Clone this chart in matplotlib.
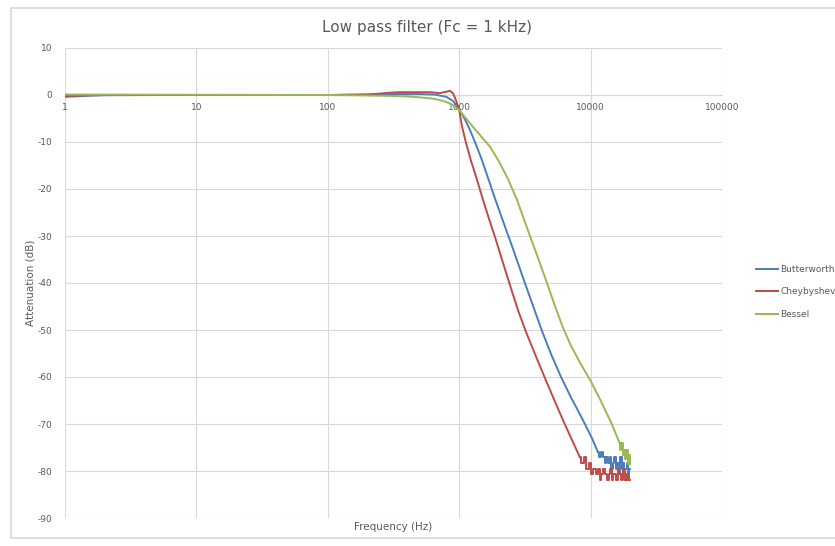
import matplotlib
matplotlib.use("Agg")
import matplotlib.pyplot as plt
from matplotlib.patches import Rectangle
from matplotlib.ticker import FixedLocator, NullLocator

plt.rcParams["axes.unicode_minus"] = False


# (Hz, dB)
butter_f = [1, 1.5, 2, 5, 10, 50, 100, 200, 350, 500, 650, 800, 900, 1000,
            1096, 1202, 1318, 1479, 1660, 1871, 2153, 2512, 3162, 4266, 5012,
            5957, 7079, 8318, 9120, 10233, 11376]
butter_db = [-0.4, -0.15, -0.05, 0, 0, 0, 0, 0.1, 0.2, 0.2, 0.1, -0.4, -1.3, -3.1,
             -5.0, -7.3, -10, -13.6, -17.7, -22, -26.8, -32, -40, -50.2, -55.2,
             -60, -64.3, -68, -70.2, -73, -76]
butter_tail_f = [11400, 11800, 12200, 12600, 13000, 13400, 13800, 14200, 14600,
                 15000, 15400, 15800, 16200, 16600, 17000, 17400, 17800, 18200,
                 18600, 19000, 19400, 19800]
butter_tail_db = [-76.0, -77.1, -76.0, -77.1, -78.3, -77.1, -78.3, -77.1, -79.5,
                  -78.3, -77.1, -79.5, -78.3, -80.7, -77.1, -79.5, -78.3, -80.7,
                  -79.5, -78.3, -80.7, -79.5]

cheby_f = [1, 2, 10, 100, 200, 250, 300, 355, 450, 600, 710, 800, 850, 900, 950,
           1000, 1047, 1122, 1230, 1365, 1517, 1679, 1862, 2344, 2818, 3236,
           3758, 4457, 5309, 6237, 7244, 8299]
cheby_db = [-0.2, 0, 0, 0, 0.1, 0.3, 0.5, 0.6, 0.6, 0.6, 0.4, 0.7, 0.9, 0.3, -1.3,
            -3.2, -6.5, -10, -14, -18, -22.3, -26.2, -30, -39, -46, -50.5,
            -55, -60, -65, -69.5, -73.5, -77.1]
cheby_tail_f = [8300, 8700, 9100, 9500, 9900, 10300, 10700, 11100, 11500, 11900,
                12300, 12700, 13100, 13500, 13900, 14300, 14700, 15100, 15500,
                15900, 16300, 16700, 17100, 17500, 17900, 18300, 18700, 19100,
                19500, 20000]
cheby_tail_db = [-77.1, -78.3, -77.1, -79.5, -78.3, -80.7, -79.5, -80.7, -79.5,
                 -82.0, -80.7, -79.5, -80.7, -82.0, -80.7, -79.5, -82.0, -80.7,
                 -80.7, -82.0, -79.5, -80.7, -82.0, -80.7, -79.5, -82.0, -80.7,
                 -82.0, -80.7, -82.0]

bessel_f = [1, 10, 100, 200, 300, 400, 500, 600, 700, 800, 900, 1000, 1150, 1274,
            1479, 1715, 1995, 2344, 2754, 3090, 3459, 3981, 4656, 5370, 6166,
            7079, 8318, 10000, 12023, 14488, 16596]
bessel_db = [0.1, 0.05, 0, -0.1, -0.2, -0.3, -0.5, -0.7, -1.0, -1.5, -2.2, -3.2,
             -5.3, -6.8, -8.9, -11, -14, -17.8, -22.3, -26.2, -30, -34.7, -40,
             -45, -49.5, -53.3, -57, -60.8, -65.2, -70, -74]
bessel_tail_f = [16596, 16900, 17300, 17700, 18100, 18500, 18900, 19300, 19700,
                 20000]
bessel_tail_db = [-74.0, -75.5, -74.0, -76.5, -75.5, -77.5, -75.5, -78.5, -76.5,
                  -78.5]

x_ticks = [1, 10, 100, 1000, 10000, 100000]
y_ticks = list(range(-90, 11, 10))

blue, red, green = "#4A7EBB", "#BE4B48", "#98B954"
grey_txt = "#595959"
grid_col = "#D9D9D9"

fig = plt.figure(figsize=(8.35, 5.46), dpi=100)
ax = fig.add_axes([65 / 835, 1 - 518 / 546, 657 / 835, 470 / 546])

ax.plot(butter_f, butter_db, color=blue, lw=1.4, zorder=3, label="Butterworth")
ax.plot(butter_tail_f, butter_tail_db, color=blue, lw=1.4, zorder=3,
        drawstyle="steps-mid")
ax.plot(cheby_f, cheby_db, color=red, lw=1.4, zorder=4, label="Cheybyshev")
ax.plot(cheby_tail_f, cheby_tail_db, color=red, lw=1.4, zorder=4,
        drawstyle="steps-mid")
ax.plot(bessel_f, bessel_db, color=green, lw=1.4, zorder=5, label="Bessel")
ax.plot(bessel_tail_f, bessel_tail_db, color=green, lw=1.4, zorder=5,
        drawstyle="steps-mid")

ax.set_xscale("log")
ax.set_xlim(1, 100000)
ax.set_ylim(-90, 10)
ax.xaxis.set_major_locator(FixedLocator(x_ticks))
ax.xaxis.set_minor_locator(NullLocator())
ax.set_xticklabels([str(t) for t in x_ticks])
ax.set_yticks(y_ticks)
ax.grid(True, color=grid_col, lw=0.8)
ax.set_axisbelow(True)

for side in ["top", "right", "left"]:
    ax.spines[side].set_visible(False)
ax.spines["bottom"].set_position(("data", 0))
ax.spines["bottom"].set_color(grid_col)
ax.tick_params(axis="x", length=0, pad=6, labelsize=6.5, labelcolor=grey_txt)
ax.tick_params(axis="y", length=0, pad=9, labelsize=6.5, labelcolor=grey_txt)

fig.text(0.511, 0.949, "Low pass filter (Fc = 1 kHz)", ha="center", va="center",
         fontsize=11, color=grey_txt)
fig.text(0.471, 0.035, "Frequency (Hz)", ha="center", va="center",
         fontsize=7.5, color=grey_txt)
fig.text(0.036, 0.482, "Attenuation (dB)", ha="center", va="center",
         rotation=90, fontsize=7.5, color=grey_txt)

fig.legend(loc="center left", bbox_to_anchor=(748 / 835, 1 - 292 / 546),
           frameon=False, fontsize=6.5, labelcolor=grey_txt, handlelength=2.4,
           labelspacing=1.5, handletextpad=0.3)

fig.patches.append(Rectangle((11 / 835, 8 / 546), 1.0, 530 / 546,
                             transform=fig.transFigure, fill=False,
                             edgecolor=grid_col, lw=1.2))

fig.savefig("out.png", dpi=100)
